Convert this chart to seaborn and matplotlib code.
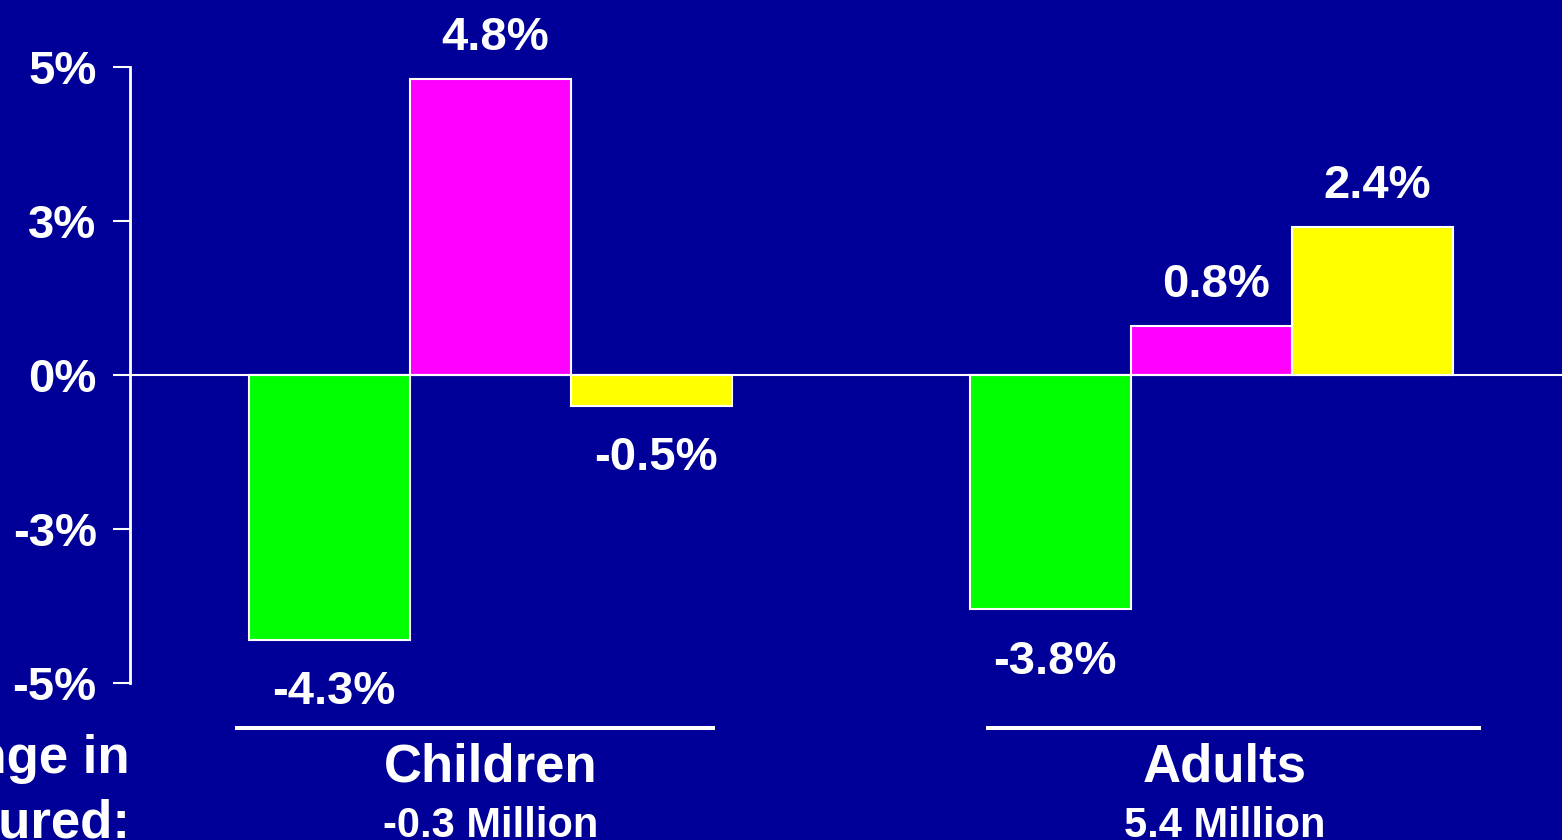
import matplotlib
matplotlib.use("Agg")
import matplotlib.pyplot as plt
import matplotlib.transforms as mtransforms
import seaborn as sns
import pandas as pd

# ---- data ----
groups = ["Children", "Adults"]
group_totals = ["-0.3 Million", "5.4 Million"]
series = ["Employer", "Public", "Individual"]
children_values = [-4.3, 4.8, -0.5]
adults_values = [-3.8, 0.8, 2.4]
ytick_values = [-5, -2.5, 0, 2.5, 5]
ytick_labels = ["-5%", "-3%", "0%", "3%", "5%"]
side_label = ["Change in", "Insured:"]

colors = ["#00FF00", "#FF00FF", "#FFFF00"]
BG = "#000099"

df = pd.DataFrame({
    "group": [groups[0]] * 3 + [groups[1]] * 3,
    "series": series * 2,
    "value": children_values + adults_values,
})

sns.set_theme(style="white")
plt.rcParams["font.family"] = ["Liberation Sans", "DejaVu Sans"]
plt.rcParams["font.weight"] = "bold"

W, H = 1562, 840
fig = plt.figure(figsize=(W / 100, H / 100), dpi=100, facecolor=BG)
ax = fig.add_axes([130 / W, 157 / H, 1442 / W, 616 / H])
ax.set_facecolor(BG)

sns.barplot(data=df, x="group", y="value", hue="series", order=groups,
            hue_order=series, palette=colors, width=0.67, saturation=1,
            edgecolor="white", linewidth=1.5, legend=False, ax=ax)

ax.set_xlim(-0.5, 1.5)
ax.set_ylim(-5, 5)
ax.set_yticks(ytick_values)
ax.set_yticklabels(ytick_labels)
ax.set_xticks([])
ax.set_xlabel("")
ax.set_ylabel("")
ax.tick_params(axis="y", direction="out", length=12, width=1.5, color="white",
               labelcolor="white", labelsize=34, pad=12, left=True)
for lab in ax.get_yticklabels():
    lab.set_fontweight("bold")
for s in ["top", "right", "bottom"]:
    ax.spines[s].set_visible(False)
ax.spines["left"].set_color("white")
ax.spines["left"].set_linewidth(2)
ax.axhline(0, color="white", lw=1.5, zorder=3)

# value labels
for container in ax.containers:
    for bar in container:
        h = bar.get_height()
        x = bar.get_x() + bar.get_width() / 2
        if h >= 0:
            ax.annotate(f"{h:.1f}%", (x, h), xytext=(3, 21), textcoords="offset points",
                        ha="center", va="baseline", color="white", fontsize=34,
                        fontweight="bold")
        else:
            ax.annotate(f"{h:.1f}%", (x, h), xytext=(3, -22), textcoords="offset points",
                        ha="center", va="top", color="white", fontsize=34,
                        fontweight="bold")

# group underlines and labels
tr_line = mtransforms.blended_transform_factory(ax.transData, fig.transFigure)
line_y = (H - 728) / H
line_spans = [(-0.355, 0.311), (0.687, 1.374)]
label_dx = [0.0, 0.018]
for i, g in enumerate(groups):
    x0, x1 = line_spans[i]
    ax.plot([x0, x1], [line_y, line_y], transform=tr_line, color="white",
            lw=2.9, clip_on=False, solid_capstyle="butt")
    fig.text(i + label_dx[i], (H - 782) / H, g, transform=tr_line, ha="center",
             va="baseline", color="white", fontsize=38, fontweight="bold")
    fig.text(i + label_dx[i], (H - 837) / H, group_totals[i], transform=tr_line,
             ha="center", va="baseline", color="white", fontsize=30, fontweight="bold")

tr_side = mtransforms.blended_transform_factory(ax.transAxes, fig.transFigure)
fig.text(0.0, (H - 773) / H, side_label[0], transform=tr_side, ha="right",
         va="baseline", color="white", fontsize=38, fontweight="bold")
fig.text(0.0, (H - 837) / H, side_label[1], transform=tr_side, ha="right",
         va="baseline", color="white", fontsize=38, fontweight="bold")

fig.savefig("out.png", dpi=100, facecolor=BG)
